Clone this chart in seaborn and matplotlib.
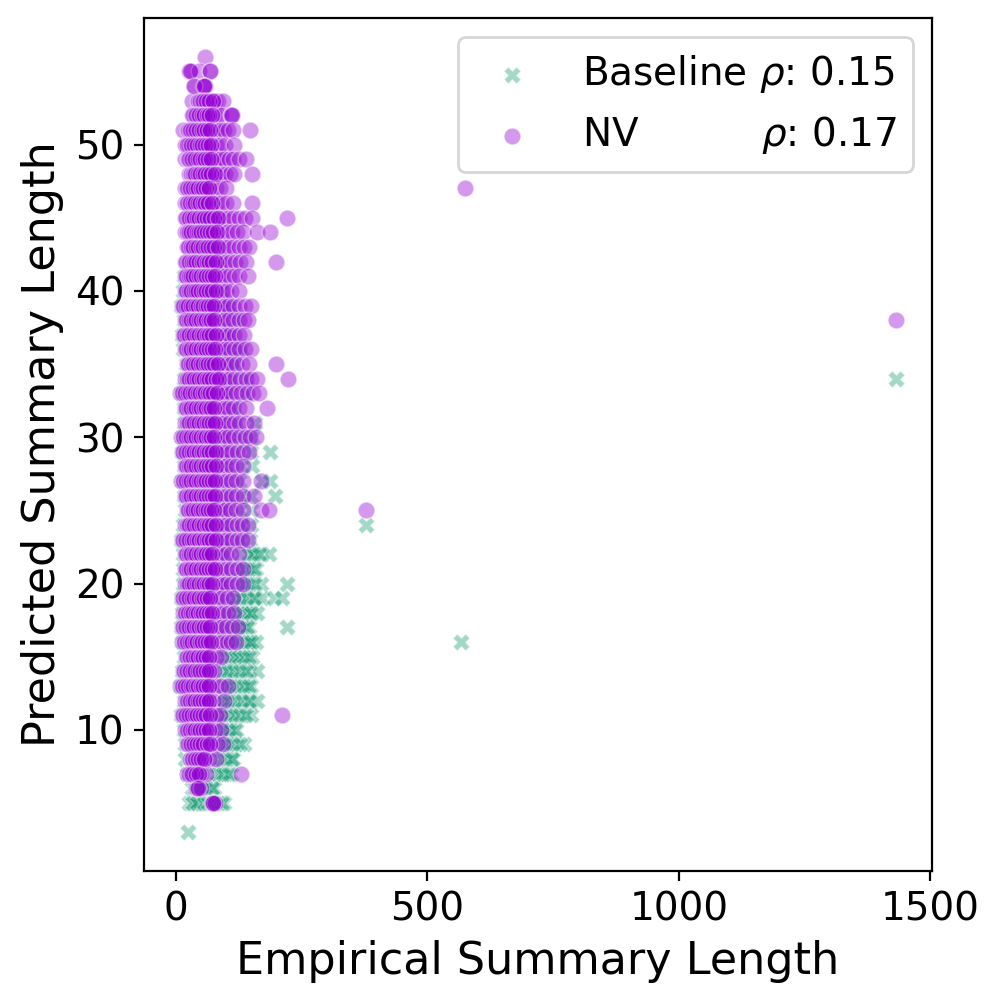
import matplotlib
matplotlib.use("Agg")
import matplotlib.pyplot as plt
import seaborn as sns
import pandas as pd

baseline_levels = [41, 40, 39, 38, 37, 36, 35, 34, 33, 32, 31, 30, 29, 28, 27, 26, 25, 24,
                   23, 22, 21, 20, 19, 18, 17, 16, 15, 14, 13, 12, 11, 10, 9, 8, 7, 6, 5, 3]
baseline_x = [
    [16, 40, 80],
    [15, 50, 90],
    [10, 35, 70, 105],
    [16, 45, 85, 120],
    [12, 40, 75, 110],
    [14, 35, 70, 105, 130],
    [20, 45, 80, 115],
    [17, 40, 75, 110, 140, 1432],
    [10, 35, 70, 105, 140],
    [16, 45, 80, 115],
    [17, 30, 60, 90, 120, 158],
    [12, 35, 65, 95, 125, 152],
    [13, 30, 60, 90, 120, 150, 188],
    [16, 40, 70, 100, 130, 152],
    [12, 35, 65, 95, 125, 172, 188],
    [16, 40, 70, 100, 130, 150, 198],
    [18, 35, 65, 95, 125, 150],
    [15, 40, 70, 100, 130, 150, 379],
    [11, 35, 65, 95, 125, 148],
    [15, 40, 70, 100, 130, 143, 150, 158, 172, 186],
    [14, 35, 65, 95, 125, 140, 150, 160],
    [15, 40, 70, 100, 125, 140, 152, 169, 222],
    [10, 35, 65, 95, 115, 125, 135, 149, 160, 172, 196, 212],
    [13, 40, 70, 100, 118, 128, 136, 145, 152, 162],
    [11, 35, 65, 95, 115, 128, 138, 146, 222],
    [12, 40, 70, 100, 118, 130, 140, 146, 152, 159, 567],
    [17, 35, 60, 85, 98, 106, 114, 122, 130, 140, 152],
    [12, 35, 60, 80, 90, 100, 110, 122, 135, 148, 162],
    [8, 30, 55, 80, 100, 110, 120, 130, 140, 149],
    [16, 35, 60, 80, 90, 100, 112, 125, 140, 150, 162],
    [10, 30, 55, 80, 92, 102, 112, 122, 135, 149],
    [16, 30, 55, 75, 90, 98, 106, 116],
    [18, 30, 50, 70, 88, 98, 108, 120, 136],
    [19, 30, 45, 60, 75, 88, 98, 108, 113],
    [22, 35, 50, 65, 80, 89, 100, 109],
    [32, 38, 46, 55, 63, 70, 76],
    [26, 32, 38, 45, 52, 60, 68, 78, 88, 96],
    [25],
]
# second reading of the crowded right-hand baseline tail (levels 22 down to 5)
baseline_tail_levels = [22, 21, 20, 19, 18, 17, 16, 15, 14, 13, 12, 11, 10, 9, 8, 7, 6, 5]
baseline_tail_x = [
    [146, 154, 166],
    [136, 145, 155],
    [136, 146, 158],
    [120, 130, 142, 155],
    [123, 132, 141, 149],
    [122, 133, 142],
    [124, 135, 143, 150],
    [102, 110, 118, 126, 135, 146],
    [95, 104, 115, 128, 140],
    [104, 115, 125, 135, 145],
    [95, 106, 118, 132, 145],
    [97, 107, 117, 128, 140],
    [94, 102, 110, 120],
    [93, 103, 114, 128],
    [92, 102, 111],
    [84, 94, 105],
    [50, 60, 72],
    [35, 42, 56, 64, 74, 84, 92],
]

nv_levels = list(range(56, 4, -1))
nv_x = [
    [58],
    [27, 31, 46, 68, 69],
    [36, 55, 57, 58],
    [32, 45, 52, 57, 63, 68, 72, 78, 84, 93],
    [32, 38, 44, 49, 54, 59, 64, 70, 76, 83, 90, 109, 110, 112],
    [14, 24, 31, 38, 44, 49, 54, 60, 66, 72, 79, 87, 96, 104, 113, 147],
    [18, 26, 33, 39, 45, 50, 55, 61, 67, 73, 80, 88, 97, 116],
    [18, 24, 30, 36, 41, 46, 51, 56, 62, 68, 74, 81, 88, 96, 105, 114, 125, 139],
    [26, 31, 36, 41, 46, 51, 56, 62, 68, 75, 82, 90, 98, 107, 116, 152],
    [19, 25, 31, 37, 42, 47, 52, 58, 64, 71, 79, 88, 99, 575],
    [19, 25, 31, 36, 41, 46, 51, 56, 62, 68, 75, 82, 90, 99, 113, 152],
    [19, 24, 29, 34, 39, 44, 49, 54, 60, 66, 72, 79, 86, 94, 103, 113, 125, 138, 152, 222],
    [19, 24, 29, 34, 39, 44, 49, 54, 59, 65, 71, 77, 84, 92, 101, 111, 122, 133, 162, 187],
    [22, 27, 32, 37, 42, 47, 52, 57, 62, 68, 74, 80, 87, 95, 104, 114, 125, 135, 145],
    [19, 24, 29, 34, 39, 44, 49, 54, 59, 64, 70, 76, 83, 90, 98, 107, 117, 128, 139, 200],
    [18, 23, 28, 33, 38, 43, 48, 53, 58, 63, 69, 75, 81, 88, 96, 105, 115, 126, 143],
    [18, 23, 28, 33, 38, 43, 48, 53, 58, 64, 70, 76, 83, 91, 100, 110, 126],
    [12, 17, 22, 27, 32, 37, 42, 47, 52, 57, 62, 68, 74, 80, 87, 95, 104, 114, 125, 137, 149],
    [18, 23, 28, 33, 38, 43, 48, 53, 58, 63, 68, 74, 80, 87, 95, 104, 114, 125, 135, 143, 1432],
    [14, 19, 24, 29, 34, 39, 44, 49, 54, 59, 64, 70, 76, 82, 89, 97, 106, 116, 126, 136],
    [18, 23, 28, 33, 38, 43, 48, 53, 58, 63, 69, 75, 81, 88, 96, 105, 115, 126, 138, 149],
    [22, 27, 32, 37, 42, 47, 52, 57, 62, 67, 73, 79, 86, 93, 101, 110, 120, 131, 146, 200],
    [19, 24, 29, 34, 39, 44, 49, 54, 59, 64, 70, 76, 82, 89, 97, 106, 116, 127, 139, 150, 162, 223],
    [9, 15, 21, 26, 31, 36, 41, 46, 51, 56, 61, 66, 72, 78, 85, 92, 100, 109, 119, 130, 142, 154, 165],
    [18, 23, 28, 33, 38, 43, 48, 53, 58, 63, 68, 74, 80, 87, 95, 104, 114, 126, 139, 182],
    [19, 24, 29, 34, 39, 44, 49, 54, 59, 64, 69, 75, 81, 88, 96, 105, 115, 126, 139, 156],
    [11, 17, 23, 28, 33, 38, 43, 48, 53, 58, 63, 68, 74, 80, 87, 95, 104, 114, 125, 137, 148, 159],
    [12, 18, 24, 29, 34, 39, 44, 49, 54, 59, 64, 70, 76, 83, 91, 100, 110, 121, 133, 146],
    [18, 23, 28, 33, 38, 43, 48, 53, 58, 63, 69, 75, 82, 90, 99, 109, 120, 133],
    [11, 17, 23, 28, 33, 38, 43, 48, 53, 58, 63, 69, 75, 82, 90, 99, 109, 120, 133, 169],
    [18, 23, 28, 33, 38, 43, 48, 53, 58, 63, 69, 75, 82, 90, 99, 109, 120, 133, 155],
    [22, 27, 32, 37, 42, 47, 52, 57, 62, 68, 74, 81, 89, 98, 108, 120, 133, 169, 186, 379],
    [19, 24, 29, 34, 39, 44, 49, 54, 59, 64, 70, 76, 83, 91, 100, 110, 121, 132, 143],
    [12, 18, 24, 29, 34, 39, 44, 49, 54, 59, 64, 70, 76, 83, 91, 100, 110, 121, 132, 143],
    [18, 23, 28, 33, 38, 43, 48, 53, 58, 63, 69, 75, 82, 90, 99, 109, 126],
    [18, 23, 28, 33, 38, 43, 48, 53, 58, 63, 69, 75, 82, 90, 99, 110, 122, 133],
    [19, 24, 29, 34, 39, 44, 49, 54, 59, 64, 70, 76, 83, 91, 100, 110, 122, 133],
    [12, 18, 24, 29, 34, 39, 44, 49, 54, 60, 66, 73, 81, 90, 101, 113],
    [15, 21, 27, 32, 37, 42, 47, 52, 57, 63, 69, 76, 84, 93, 104, 116],
    [12, 18, 24, 29, 34, 39, 44, 49, 54, 60, 66, 73, 81, 90, 100, 112, 123],
    [13, 19, 25, 30, 35, 40, 45, 50, 55, 61, 67, 74, 82, 91, 101, 110, 120],
    [20, 26, 32, 37, 42, 47, 52, 58, 64, 71, 79, 90],
    [14, 20, 26, 31, 36, 41, 46, 51, 57, 63, 70, 77],
    [9, 15, 21, 27, 32, 37, 42, 47, 52, 58, 64, 71, 79, 89, 103],
    [19, 25, 31, 36, 41, 46, 51, 57, 63, 69, 74, 95],
    [12, 18, 24, 30, 35, 40, 45, 51, 57, 64, 72, 80, 87, 212],
    [19, 25, 31, 36, 41, 46, 51, 57, 63, 70, 78, 90],
    [22, 28, 34, 40, 46, 52, 58, 65, 73, 82, 93],
    [29, 35, 41, 47, 53, 59, 67, 80],
    [22, 30, 37, 44, 51, 60, 129],
    [41, 43, 50],
    [72, 75, 78],
]
# second reading of the crowded core of each NV level (same levels as nv_levels)
nv_core_x = [
    [],
    [29],
    [37, 56],
    [48, 55, 60, 66, 74],
    [35, 41, 47, 52, 57, 62, 67, 73],
    [28, 35, 41, 47, 52, 57, 63, 69],
    [22, 30, 36, 42, 48, 53, 58, 64, 70],
    [27, 33, 39, 44, 49, 54, 59, 65, 71],
    [34, 39, 44, 49, 54, 59, 65, 71, 78],
    [22, 28, 34, 40, 45, 50, 55, 61, 67],
    [22, 28, 34, 39, 44, 49, 54, 59, 65, 72],
    [21, 26, 32, 37, 42, 47, 52, 57, 63, 69, 76, 83],
    [22, 27, 31, 36, 42, 47, 51, 57, 62, 68, 74, 81],
    [25, 30, 35, 40, 45, 50, 55, 60, 65, 71, 77, 84],
    [21, 26, 32, 37, 41, 47, 52, 56, 62, 67, 73, 80],
    [20, 26, 31, 35, 41, 46, 50, 56, 61, 66, 72, 78],
    [21, 26, 31, 36, 41, 45, 51, 56, 61, 67, 73, 80],
    [15, 20, 25, 30, 35, 40, 45, 50, 55, 60, 65, 71, 77],
    [21, 26, 31, 36, 40, 46, 51, 56, 61, 66, 71, 77],
    [17, 22, 27, 32, 37, 42, 47, 52, 57, 62, 67, 73, 79],
    [21, 26, 31, 36, 41, 46, 51, 56, 61, 66, 72, 78],
    [25, 30, 35, 40, 45, 50, 55, 60, 65, 70, 76, 83],
    [22, 27, 32, 37, 42, 47, 52, 57, 62, 67, 73, 79, 86],
    [12, 18, 24, 29, 34, 39, 44, 49, 54, 59, 64, 69, 75, 81],
    [21, 26, 31, 36, 41, 46, 51, 56, 61, 66, 71, 77],
    [22, 27, 32, 37, 42, 47, 52, 57, 62, 67, 72, 78],
    [14, 20, 26, 31, 36, 41, 46, 51, 56, 61, 66, 71, 77],
    [15, 21, 27, 32, 37, 42, 47, 52, 57, 62, 67, 73, 79],
    [21, 26, 31, 36, 41, 46, 51, 56, 61, 66, 72, 79],
    [14, 20, 26, 31, 36, 41, 46, 51, 56, 61, 66, 72, 78],
    [21, 26, 31, 36, 41, 46, 51, 56, 61, 66, 72, 78],
    [25, 30, 35, 40, 45, 50, 55, 60, 65, 71, 77],
    [22, 27, 32, 37, 42, 47, 52, 57, 62, 67, 73, 79],
    [15, 21, 27, 32, 37, 42, 47, 52, 57, 62, 67, 73, 79],
    [21, 26, 31, 36, 41, 46, 51, 56, 61, 66, 72],
    [21, 26, 31, 36, 41, 46, 51, 56, 61, 66, 72, 78],
    [22, 27, 32, 37, 42, 47, 52, 57, 62, 67, 73],
    [15, 21, 27, 32, 37, 42, 47, 52, 57, 63, 69],
    [18, 24, 30, 35, 40, 45, 50, 55, 60, 66, 72],
    [15, 21, 27, 32, 37, 42, 47, 52, 57, 63, 69],
    [16, 22, 28, 33, 38, 43, 48, 53, 58, 64, 70],
    [23, 29, 35, 40, 45, 50, 55, 61, 67],
    [17, 23, 29, 34, 39, 44, 49, 54, 60, 66],
    [12, 18, 24, 30, 35, 40, 45, 50, 55, 61, 67],
    [22, 28, 34, 39, 44, 49, 54, 60, 66],
    [15, 21, 27, 33, 38, 43, 48, 54, 60, 68],
    [22, 28, 34, 39, 44, 49, 54, 60, 66],
    [25, 31, 37, 43, 49, 55, 62, 69],
    [32, 38, 44, 50, 56],
    [26, 33, 40, 47],
    [45],
    [74],
]


# Flattens the per-level lists into an x/y table
def to_frame(levels, xs):
    rows = [(x, y) for y, row in zip(levels, xs) for x in row]
    return pd.DataFrame(rows, columns=["Empirical", "Predicted"])


def main():
    baseline = pd.concat([to_frame(baseline_levels, baseline_x),
                          to_frame(baseline_tail_levels, baseline_tail_x)])
    nv = pd.concat([to_frame(nv_levels, nv_x), to_frame(nv_levels, nv_core_x)])

    fig, ax = plt.subplots(figsize=(4.985, 5.025), dpi=200)
    fig.subplots_adjust(left=0.1444, right=0.9348, top=0.9821, bottom=0.1333)

    sns.scatterplot(data=baseline, x="Empirical", y="Predicted", marker="X",
                    color="#1b9e77", alpha=0.4, label="Baseline $\\rho$: 0.15", ax=ax)
    sns.scatterplot(data=nv, x="Empirical", y="Predicted", marker="o",
                    color="darkviolet", alpha=0.4,
                    label="NV          $\\rho$: 0.17", ax=ax)

    ax.set_xlabel("Empirical Summary Length", fontsize=16)
    ax.set_ylabel("Predicted Summary Length", fontsize=16)
    ax.tick_params(labelsize=14)
    ax.set_xticks([0, 500, 1000, 1500])
    ax.set_yticks([10, 20, 30, 40, 50])
    ax.legend(loc="upper right", fontsize=14)

    fig.savefig("out.png", dpi=200)
    plt.close(fig)


if __name__ == "__main__":
    main()
